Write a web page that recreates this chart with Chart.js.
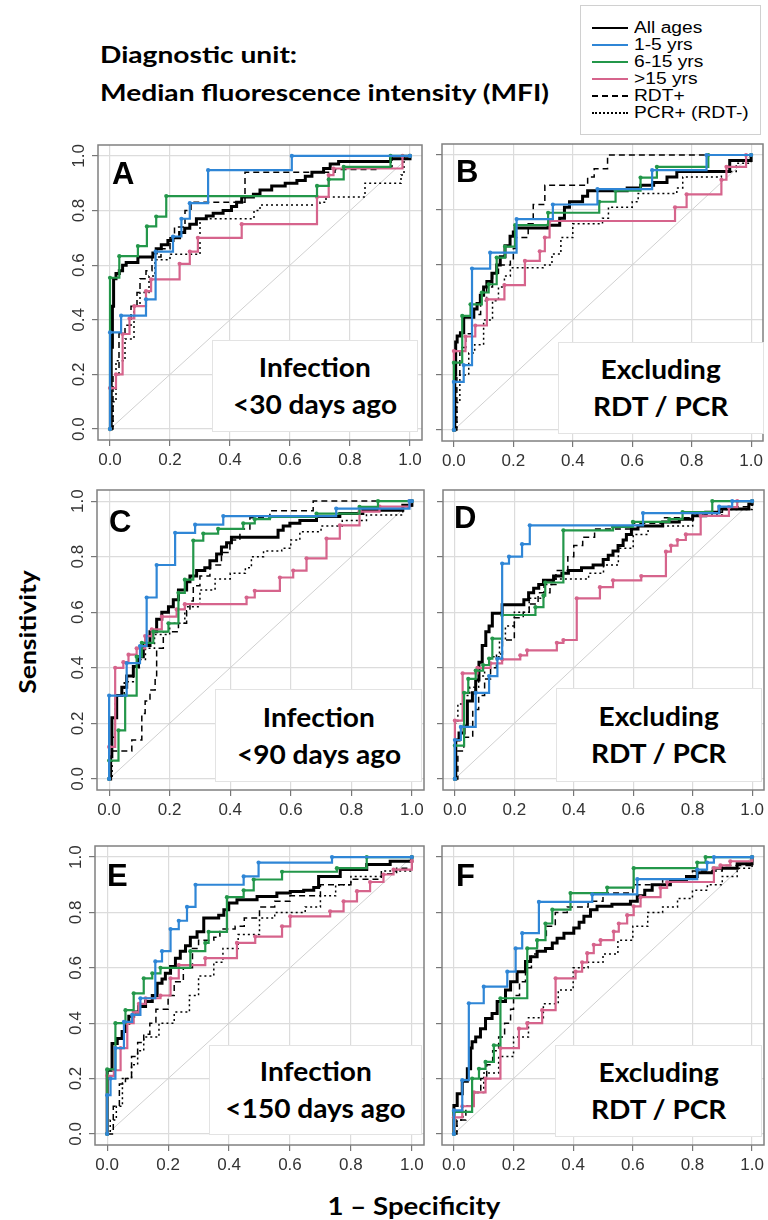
<!DOCTYPE html>
<html>
<head>
<meta charset="utf-8">
<script src="https://cdn.jsdelivr.net/npm/chart.js@4"></script>
<style>
  html, body { margin: 0; padding: 0; background: #fff; }
  #page { position: relative; width: 768px; height: 1220px; overflow: hidden; background: #fff; }
  canvas { position: absolute; }
  .txt { position: absolute; white-space: nowrap; color: #000; font-family: Lato, "Open Sans", sans-serif; font-weight: bold; }
  .title { left: 100px; font-size: 22px; line-height: 28px; transform: scaleX(1.28); transform-origin: left center; }
  .letter { position: absolute; font-family: "Liberation Sans", Arial, sans-serif; font-weight: bold; font-size: 31px; line-height: 31px; }
  .inset { position: absolute; background: #fff; border: 1px solid #e3e3e3; display: flex; flex-direction: column; align-items: center; justify-content: center; }
  .inset div { font-family: Lato, "Open Sans", sans-serif; font-weight: bold; font-size: 26px; line-height: 37px; transform: scaleX(1.08); }
  #legend { position: absolute; left: 580px; top: 5px; width: 181px; height: 130px; border: 1px solid #d0d0d0; background: #fff; box-sizing: border-box; padding-top: 13px; }
  .row { height: 17px; display: flex; align-items: center; }
  .swatch { width: 36px; margin-left: 11px; margin-right: 6px; height: 0; }
  .lab { font-family: "Liberation Sans", Arial, sans-serif; font-size: 16px; transform: scaleX(1.2); transform-origin: left center; }
</style>
</head>
<body>
<div id="page">
  <div class="txt title" style="top:41px;">Diagnostic unit:</div>
  <div class="txt title" style="top:79px;">Median fluorescence intensity (MFI)</div>

  <div id="legend">
    <div class="row"><span class="swatch" style="border-top:2px solid #000"></span><span class="lab">All ages</span></div>
    <div class="row"><span class="swatch" style="border-top:2px solid #2f86d6"></span><span class="lab">1-5 yrs</span></div>
    <div class="row"><span class="swatch" style="border-top:2px solid #23974a"></span><span class="lab">6-15 yrs</span></div>
    <div class="row"><span class="swatch" style="border-top:2px solid #d6648c"></span><span class="lab">&gt;15 yrs</span></div>
    <div class="row"><span class="swatch" style="border-top:2px dashed #000"></span><span class="lab">RDT+</span></div>
    <div class="row"><span class="swatch" style="border-top:2px dotted #000"></span><span class="lab">PCR+ (RDT-)</span></div>
  </div>

  <canvas id="cA"></canvas>
  <canvas id="cB"></canvas>
  <canvas id="cC"></canvas>
  <canvas id="cD"></canvas>
  <canvas id="cE"></canvas>
  <canvas id="cF"></canvas>

  <div class="letter" style="left:112px;top:158px;">A</div>
  <div class="letter" style="left:456px;top:156px;">B</div>
  <div class="letter" style="left:109px;top:506px;">C</div>
  <div class="letter" style="left:454px;top:502px;">D</div>
  <div class="letter" style="left:107px;top:860px;">E</div>
  <div class="letter" style="left:456px;top:860px;">F</div>

  <div class="inset" style="left:212px;top:340px;width:204px;height:90px;"><div>Infection</div><div>&lt;30 days ago</div></div>
  <div class="inset" style="left:558px;top:342px;width:204px;height:90px;"><div>Excluding</div><div>RDT / PCR</div></div>
  <div class="inset" style="left:215px;top:689px;width:205px;height:91px;"><div>Infection</div><div>&lt;90 days ago</div></div>
  <div class="inset" style="left:556px;top:688px;width:204px;height:92px;"><div>Excluding</div><div>RDT / PCR</div></div>
  <div class="inset" style="left:209px;top:1045px;width:211px;height:88px;"><div>Infection</div><div>&lt;150 days ago</div></div>
  <div class="inset" style="left:555px;top:1045px;width:205px;height:90px;"><div>Excluding</div><div>RDT / PCR</div></div>

  <div class="txt" style="left:27px;top:632px;font-size:23px;transform:translate(-50%,-50%) rotate(-90deg) scaleX(1.15);">Sensitivity</div>
  <div class="txt" style="left:414px;top:1205px;font-size:24px;transform:translate(-50%,-50%) scaleX(1.15);">1 – Specificity</div>
</div>

<script>
// ROC step curves, points are [1 - specificity, sensitivity] at each rise

const tickValues = [0, 0.2, 0.4, 0.6, 0.8, 1.0];

// A: infection < 30 days ago
const aAll = [[0,0],[0.004,0.3],[0.008,0.45],[0.012,0.55],[0.02,0.57],[0.031,0.58],[0.042,0.6],[0.054,0.61],[0.093,0.63],[0.143,0.645],[0.154,0.66],[0.171,0.675],[0.193,0.69],[0.21,0.70],[0.232,0.72],[0.249,0.735],[0.266,0.75],[0.288,0.77],[0.321,0.78],[0.344,0.79],[0.377,0.80],[0.405,0.815],[0.422,0.83],[0.439,0.85],[0.478,0.86],[0.5,0.875],[0.539,0.89],[0.584,0.9],[0.623,0.91],[0.651,0.926],[0.673,0.94],[0.712,0.954],[0.734,0.97],[0.762,0.98],[0.935,0.99],[1,1]];
const aYoung = [[0,0],[0,0.354],[0.037,0.415],[0.12,0.475],[0.152,0.65],[0.21,0.705],[0.238,0.77],[0.266,0.827],[0.327,0.948],[0.606,1],[1,1]];
const aMid = [[0,0],[0,0.554],[0.031,0.633],[0.093,0.67],[0.123,0.742],[0.154,0.778],[0.1875,0.853],[0.69,0.89],[0.729,0.914],[0.779,0.96],[0.935,1],[1,1]];
const aOld = [[0,0],[0,0.15],[0.02,0.2],[0.042,0.348],[0.065,0.405],[0.081,0.45],[0.12,0.505],[0.137,0.548],[0.232,0.605],[0.266,0.65],[0.293,0.70],[0.439,0.75],[0.69,0.85],[0.729,0.93],[0.745,0.954],[0.975,1],[1,1]];
const aRdt = [[0,0],[0.01,0.2],[0.03,0.35],[0.05,0.38],[0.07,0.45],[0.09,0.5],[0.1,0.55],[0.12,0.58],[0.14,0.63],[0.17,0.66],[0.2,0.7],[0.215,0.74],[0.25,0.8],[0.27,0.83],[0.45,0.94],[0.75,0.95],[0.9,0.96],[0.94,1],[1,1]];
const aPcr = [[0,0],[0.01,0.1],[0.02,0.25],[0.05,0.33],[0.08,0.45],[0.1,0.5],[0.13,0.56],[0.15,0.62],[0.2,0.64],[0.3,0.77],[0.48,0.8],[0.5,0.82],[0.7,0.83],[0.72,0.85],[0.85,0.9],[0.97,0.93],[0.98,1],[1,1]];

// B: excluding RDT / PCR positives (30 days)
const bAll = [[0,0],[0.003,0.2],[0.006,0.32],[0.011,0.342],[0.022,0.354],[0.033,0.41],[0.067,0.44],[0.078,0.46],[0.089,0.49],[0.1,0.52],[0.111,0.54],[0.128,0.57],[0.144,0.6],[0.156,0.63],[0.172,0.67],[0.189,0.705],[0.2,0.72],[0.206,0.735],[0.317,0.745],[0.356,0.77],[0.372,0.81],[0.389,0.83],[0.433,0.85],[0.45,0.87],[0.583,0.88],[0.628,0.89],[0.672,0.9],[0.717,0.92],[0.75,0.94],[0.928,0.98],[1,1]];
const bYoung = [[0,0],[0,0.175],[0.033,0.236],[0.061,0.587],[0.122,0.645],[0.211,0.767],[0.333,0.82],[0.483,0.876],[0.667,0.945],[0.85,1],[1,1]];
const bMid = [[0,0],[0,0.245],[0.028,0.415],[0.056,0.457],[0.094,0.5],[0.117,0.53],[0.144,0.627],[0.172,0.667],[0.206,0.745],[0.317,0.79],[0.489,0.83],[0.544,0.87],[0.628,0.918],[0.683,0.957],[0.856,1],[1,1]];
const bOld = [[0,0],[0,0.287],[0.039,0.34],[0.072,0.38],[0.111,0.475],[0.17,0.527],[0.239,0.615],[0.289,0.65],[0.306,0.7],[0.322,0.76],[0.744,0.81],[0.783,0.857],[0.9,0.91],[0.917,0.957],[0.983,1],[1,1]];
const bRdt = [[0,0],[0.01,0.2],[0.02,0.3],[0.04,0.35],[0.06,0.42],[0.09,0.47],[0.11,0.52],[0.13,0.57],[0.15,0.6],[0.19,0.62],[0.2,0.66],[0.21,0.7],[0.25,0.75],[0.267,0.82],[0.306,0.89],[0.45,0.92],[0.472,0.95],[0.517,1],[1,1]];
const bPcr = [[0,0],[0.01,0.1],[0.02,0.2],[0.05,0.28],[0.07,0.31],[0.1,0.4],[0.13,0.47],[0.15,0.52],[0.17,0.56],[0.19,0.59],[0.3,0.6],[0.33,0.64],[0.36,0.7],[0.4,0.75],[0.5,0.77],[0.52,0.81],[0.6,0.83],[0.62,0.86],[0.75,0.88],[0.77,0.92],[0.9,0.94],[0.95,0.97],[1,1]];

// C: infection < 90 days ago
const cAll = [[0,0],[0.005,0.08],[0.009,0.22],[0.025,0.3],[0.042,0.33],[0.058,0.37],[0.08,0.405],[0.097,0.44],[0.113,0.48],[0.135,0.53],[0.157,0.575],[0.174,0.6],[0.196,0.62],[0.212,0.645],[0.229,0.68],[0.256,0.71],[0.267,0.73],[0.289,0.75],[0.316,0.76],[0.333,0.785],[0.355,0.81],[0.371,0.835],[0.388,0.85],[0.404,0.87],[0.558,0.895],[0.575,0.91],[0.597,0.92],[0.63,0.93],[0.685,0.945],[0.762,0.955],[0.838,0.967],[0.97,0.985],[1,1]];
const cYoung = [[0,0],[0,0.3],[0.058,0.417],[0.102,0.478],[0.124,0.653],[0.157,0.77],[0.218,0.886],[0.284,0.915],[0.377,0.946],[0.75,0.973],[0.992,1],[1,1]];
const cMid = [[0,0],[0,0.066],[0.031,0.175],[0.053,0.3],[0.091,0.44],[0.108,0.49],[0.146,0.53],[0.196,0.56],[0.229,0.67],[0.25,0.717],[0.278,0.858],[0.311,0.883],[0.36,0.9],[0.443,0.92],[0.481,0.935],[0.531,0.943],[0.685,0.955],[0.827,0.979],[0.888,1],[1,1]];
const cOld = [[0,0],[0,0.115],[0.02,0.4],[0.047,0.42],[0.064,0.447],[0.091,0.47],[0.119,0.514],[0.141,0.538],[0.174,0.584],[0.223,0.61],[0.25,0.629],[0.454,0.653],[0.481,0.677],[0.564,0.725],[0.608,0.75],[0.652,0.794],[0.718,0.865],[0.762,0.913],[0.827,0.962],[0.893,0.98],[0.992,1],[1,1]];
const cRdt = [[0,0],[0,0.1],[0.075,0.14],[0.108,0.235],[0.119,0.28],[0.135,0.32],[0.152,0.357],[0.157,0.47],[0.179,0.53],[0.229,0.56],[0.256,0.605],[0.267,0.64],[0.278,0.695],[0.3,0.73],[0.333,0.77],[0.371,0.815],[0.399,0.86],[0.432,0.9],[0.465,0.94],[0.531,0.965],[0.674,1],[1,1]];
const cPcr = [[0,0],[0.01,0.15],[0.02,0.3],[0.05,0.35],[0.08,0.4],[0.1,0.43],[0.12,0.47],[0.15,0.52],[0.2,0.56],[0.25,0.62],[0.3,0.68],[0.35,0.72],[0.4,0.74],[0.45,0.76],[0.47,0.8],[0.51,0.82],[0.57,0.83],[0.6,0.86],[0.63,0.89],[0.7,0.91],[0.77,0.93],[0.85,0.95],[0.97,0.98],[1,1]];

// D: excluding RDT / PCR positives (90 days)
const dAll = [[0,0],[0.003,0.14],[0.014,0.165],[0.031,0.19],[0.042,0.28],[0.059,0.31],[0.07,0.356],[0.081,0.42],[0.092,0.48],[0.104,0.53],[0.115,0.55],[0.126,0.596],[0.159,0.627],[0.232,0.645],[0.248,0.67],[0.265,0.686],[0.282,0.7],[0.298,0.715],[0.332,0.73],[0.36,0.74],[0.382,0.75],[0.426,0.76],[0.465,0.77],[0.499,0.79],[0.516,0.805],[0.532,0.82],[0.549,0.84],[0.566,0.86],[0.577,0.88],[0.594,0.9],[0.616,0.91],[0.699,0.925],[0.755,0.935],[0.8,0.947],[0.844,0.96],[0.889,0.972],[0.989,0.99],[1,1]];
const dYoung = [[0,0],[0,0.14],[0.02,0.187],[0.07,0.31],[0.115,0.37],[0.143,0.433],[0.159,0.775],[0.182,0.8],[0.226,0.845],[0.252,0.913],[0.633,0.957],[0.889,0.98],[0.933,1],[1,1]];
const dMid = [[0,0],[0,0.12],[0.031,0.31],[0.045,0.36],[0.07,0.39],[0.095,0.41],[0.115,0.433],[0.126,0.505],[0.159,0.59],[0.271,0.618],[0.298,0.66],[0.304,0.707],[0.365,0.895],[0.532,0.907],[0.599,0.925],[0.722,0.935],[0.766,0.96],[0.866,1],[1,1]];
const dOld = [[0,0],[0,0.21],[0.026,0.38],[0.076,0.4],[0.12,0.416],[0.159,0.43],[0.22,0.445],[0.243,0.463],[0.343,0.49],[0.365,0.5],[0.41,0.65],[0.488,0.69],[0.532,0.715],[0.627,0.73],[0.71,0.818],[0.727,0.84],[0.749,0.86],[0.777,0.88],[0.827,0.947],[0.922,0.978],[0.95,1],[1,1]];
const dRdt = [[0,0],[0.01,0.1],[0.03,0.15],[0.06,0.25],[0.08,0.3],[0.1,0.36],[0.12,0.4],[0.14,0.45],[0.16,0.5],[0.2,0.58],[0.23,0.6],[0.25,0.63],[0.28,0.67],[0.32,0.7],[0.34,0.75],[0.38,0.8],[0.4,0.84],[0.43,0.87],[0.47,0.9],[0.6,0.92],[0.7,0.94],[0.8,0.96],[0.9,0.98],[1,1]];
const dPcr = [[0,0],[0,0.2],[0.01,0.27],[0.03,0.3],[0.05,0.33],[0.08,0.37],[0.1,0.4],[0.12,0.44],[0.15,0.5],[0.17,0.55],[0.2,0.6],[0.25,0.65],[0.3,0.7],[0.33,0.72],[0.45,0.74],[0.5,0.77],[0.55,0.83],[0.6,0.88],[0.65,0.91],[0.8,0.95],[0.9,0.97],[1,1]];

// E: infection < 150 days ago
const eAll = [[0,0],[0,0.23],[0.016,0.327],[0.033,0.345],[0.049,0.37],[0.06,0.4],[0.071,0.425],[0.087,0.44],[0.104,0.46],[0.126,0.478],[0.148,0.5],[0.164,0.544],[0.18,0.56],[0.191,0.58],[0.208,0.605],[0.224,0.635],[0.24,0.66],[0.257,0.68],[0.273,0.71],[0.295,0.73],[0.317,0.78],[0.366,0.79],[0.383,0.81],[0.399,0.834],[0.426,0.846],[0.492,0.858],[0.557,0.87],[0.601,0.876],[0.645,0.88],[0.678,0.89],[0.694,0.93],[0.765,0.955],[0.852,0.973],[0.929,0.985],[1,1]];
const eYoung = [[0,0],[0,0.14],[0.011,0.2],[0.027,0.31],[0.055,0.405],[0.082,0.43],[0.109,0.49],[0.158,0.623],[0.18,0.66],[0.208,0.74],[0.235,0.77],[0.262,0.82],[0.29,0.9],[0.448,0.93],[0.497,0.98],[0.738,1],[1,1]];
const eMid = [[0,0],[0,0.233],[0.027,0.4],[0.06,0.447],[0.087,0.508],[0.12,0.562],[0.148,0.58],[0.175,0.6],[0.273,0.66],[0.322,0.69],[0.333,0.73],[0.393,0.855],[0.448,0.88],[0.481,0.919],[0.574,0.947],[0.754,0.96],[0.852,1],[1,1]];
const eOld = [[0,0],[0,0.21],[0.022,0.23],[0.044,0.31],[0.066,0.4],[0.087,0.44],[0.104,0.47],[0.126,0.49],[0.175,0.5],[0.208,0.562],[0.235,0.61],[0.322,0.635],[0.426,0.69],[0.486,0.713],[0.574,0.75],[0.601,0.786],[0.732,0.804],[0.776,0.84],[0.82,0.877],[0.863,0.91],[0.907,0.937],[0.94,0.955],[1,0.985],[1,1]];
const eRdt = [[0,0],[0.02,0.1],[0.04,0.18],[0.06,0.2],[0.08,0.28],[0.1,0.33],[0.12,0.36],[0.14,0.4],[0.16,0.45],[0.2,0.5],[0.22,0.55],[0.25,0.6],[0.28,0.67],[0.3,0.7],[0.35,0.71],[0.37,0.74],[0.42,0.75],[0.45,0.78],[0.5,0.82],[0.55,0.84],[0.6,0.86],[0.7,0.9],[0.8,0.92],[0.9,0.94],[0.95,0.96],[1,1]];
const ePcr = [[0,0],[0.01,0.05],[0.03,0.1],[0.05,0.2],[0.08,0.25],[0.1,0.3],[0.12,0.35],[0.17,0.4],[0.22,0.44],[0.27,0.5],[0.3,0.57],[0.35,0.62],[0.38,0.67],[0.43,0.72],[0.5,0.78],[0.55,0.8],[0.65,0.82],[0.7,0.86],[0.75,0.9],[0.8,0.93],[0.9,0.95],[1,1]];

// F: excluding RDT / PCR positives (150 days)
const fAll = [[0,0],[0,0.103],[0.011,0.145],[0.028,0.19],[0.045,0.235],[0.056,0.31],[0.061,0.333],[0.073,0.35],[0.089,0.38],[0.106,0.417],[0.128,0.435],[0.145,0.478],[0.173,0.52],[0.19,0.55],[0.212,0.586],[0.24,0.623],[0.257,0.64],[0.279,0.66],[0.307,0.67],[0.33,0.69],[0.346,0.707],[0.369,0.725],[0.402,0.744],[0.42,0.765],[0.436,0.786],[0.458,0.81],[0.48,0.822],[0.53,0.83],[0.592,0.84],[0.615,0.86],[0.64,0.88],[0.665,0.9],[0.726,0.913],[0.78,0.93],[0.816,0.943],[0.87,0.96],[0.95,0.976],[1,1]];
const fYoung = [[0,0],[0,0.085],[0.028,0.194],[0.05,0.472],[0.1,0.532],[0.179,0.586],[0.207,0.67],[0.229,0.725],[0.285,0.838],[0.464,0.865],[0.615,0.92],[0.816,0.955],[0.849,0.98],[0.872,1],[1,1]];
const fMid = [[0,0],[0,0.08],[0.061,0.2],[0.084,0.235],[0.106,0.26],[0.134,0.32],[0.156,0.49],[0.246,0.67],[0.279,0.7],[0.307,0.76],[0.33,0.81],[0.391,0.87],[0.514,0.89],[0.603,0.96],[0.816,0.98],[0.844,1],[1,1]];
const fOld = [[0,0],[0,0.06],[0.028,0.1],[0.067,0.15],[0.106,0.2],[0.156,0.31],[0.218,0.38],[0.246,0.4],[0.296,0.447],[0.341,0.562],[0.408,0.586],[0.43,0.62],[0.447,0.653],[0.469,0.683],[0.492,0.7],[0.536,0.731],[0.553,0.76],[0.581,0.79],[0.603,0.822],[0.626,0.855],[0.693,0.889],[0.715,0.91],[0.872,0.96],[0.894,0.97],[0.927,0.985],[1,1]];
const fRdt = [[0,0],[0.01,0.05],[0.04,0.1],[0.06,0.15],[0.09,0.2],[0.11,0.25],[0.13,0.3],[0.15,0.35],[0.17,0.4],[0.19,0.45],[0.2,0.5],[0.22,0.55],[0.24,0.6],[0.26,0.65],[0.28,0.7],[0.31,0.75],[0.34,0.8],[0.38,0.82],[0.45,0.84],[0.5,0.87],[0.6,0.9],[0.7,0.92],[0.8,0.95],[0.9,0.97],[1,1]];
const fPcr = [[0,0],[0.01,0.05],[0.03,0.1],[0.06,0.15],[0.1,0.22],[0.15,0.28],[0.2,0.35],[0.25,0.42],[0.3,0.47],[0.35,0.52],[0.4,0.6],[0.45,0.62],[0.5,0.65],[0.55,0.7],[0.6,0.75],[0.65,0.8],[0.7,0.82],[0.75,0.85],[0.8,0.88],[0.85,0.9],[0.9,0.93],[0.95,0.96],[1,1]];

const chance = [[0,0],[1,1]];

// line styles, first entry is drawn on top
const seriesStyle = [
  { color: '#2f86d6', width: 2.2, dash: [],     dots: true },  // 1-5 yrs
  { color: '#23974a', width: 2.2, dash: [],     dots: true },  // 6-15 yrs
  { color: '#d6648c', width: 2.2, dash: [],     dots: true },  // >15 yrs
  { color: '#000000', width: 3,   dash: [],     dots: false }, // all ages
  { color: '#000000', width: 1.5, dash: [6, 4], dots: false }, // RDT+
  { color: '#000000', width: 1.5, dash: [2, 3], dots: false }  // PCR+ (RDT-)
];

Chart.defaults.font.family = '"Liberation Sans", Arial, sans-serif';

// draws the box around the plot region
const framePlugin = {
  id: 'frame',
  afterDatasetsDraw(chart) {
    const { ctx, chartArea: a } = chart;
    ctx.save();
    ctx.strokeStyle = '#808080';
    ctx.lineWidth = 1.5;
    ctx.strokeRect(a.left, a.top, a.right - a.left, a.bottom - a.top);
    ctx.restore();
  }
};

// y tick labels run along the axis, as in base R plots
const yLabelPlugin = {
  id: 'yLabels',
  afterDraw(chart, args, opts) {
    if (!opts.show) return;
    const { ctx, chartArea, scales: { y } } = chart;
    ctx.save();
    ctx.font = '17px "Liberation Sans", Arial, sans-serif';
    ctx.fillStyle = '#333';
    ctx.textAlign = 'center';
    ctx.textBaseline = 'middle';
    y.ticks.forEach(t => {
      ctx.save();
      ctx.translate(chartArea.left - 19, y.getPixelForValue(t.value));
      ctx.rotate(-Math.PI / 2);
      ctx.fillText(t.value.toFixed(1), 0, 0);
      ctx.restore();
    });
    ctx.restore();
  }
};

function axis(extra) {
  return Object.assign({
    type: 'linear',
    min: -0.04,
    max: 1.04,
    afterBuildTicks: s => { s.ticks = tickValues.map(v => ({ value: v })); },
    border: { display: false },
    grid: { color: '#dcdcdc', lineWidth: 1.2, drawTicks: true, tickLength: 6, tickColor: '#777' }
  }, extra);
}

function drawPanel(id, frame, curves, showY) {
  const [L, T, R, B] = frame;
  const padL = 40, padT = 10, padR = 15, padB = 40;
  const canvas = document.getElementById(id);
  canvas.width = R - L + padL + padR;
  canvas.height = B - T + padT + padB;
  canvas.style.left = (L - padL) + 'px';
  canvas.style.top = (T - padT) + 'px';

  const datasets = curves.map((pts, i) => {
    const s = seriesStyle[i];
    return {
      data: pts,
      stepped: true,
      borderColor: s.color,
      backgroundColor: s.color,
      borderWidth: s.width,
      borderDash: s.dash,
      pointRadius: s.dots ? 2.1 : 0,
      pointBorderWidth: 0,
      pointBackgroundColor: s.color,
      fill: false
    };
  });
  datasets.push({
    data: chance,
    borderColor: '#d0d0d0',
    borderWidth: 1,
    pointRadius: 0,
    fill: false
  });

  new Chart(canvas, {
    type: 'line',
    data: { datasets },
    options: {
      responsive: false,
      animation: false,
      devicePixelRatio: 1,
      layout: { padding: { left: 0, top: padT, right: padR, bottom: 0 } },
      plugins: { legend: { display: false }, tooltip: { enabled: false }, yLabels: { show: showY } },
      scales: {
        x: axis({
          ticks: { color: '#333', font: { size: 17 }, padding: 4, maxRotation: 0, autoSkip: false, callback: v => v.toFixed(1) },
          afterFit: s => { s.height = padB; }
        }),
        y: axis({
          ticks: { display: false },
          afterFit: s => { s.width = padL; }
        })
      }
    },
    plugins: [framePlugin, yLabelPlugin]
  });
}

drawPanel('cA', [98, 145, 422, 440], [aYoung, aMid, aOld, aAll, aRdt, aPcr], true);
drawPanel('cB', [442, 144, 763, 441], [bYoung, bMid, bOld, bAll, bRdt, bPcr], false);
drawPanel('cC', [97, 490, 424, 790], [cYoung, cMid, cOld, cAll, cRdt, cPcr], true);
drawPanel('cD', [443, 490, 764, 790], [dYoung, dMid, dOld, dAll, dRdt, dPcr], false);
drawPanel('cE', [95, 846, 424, 1145], [eYoung, eMid, eOld, eAll, eRdt, ePcr], true);
drawPanel('cF', [442, 846, 764, 1145], [fYoung, fMid, fOld, fAll, fRdt, fPcr], false);
</script>
</body>
</html>
